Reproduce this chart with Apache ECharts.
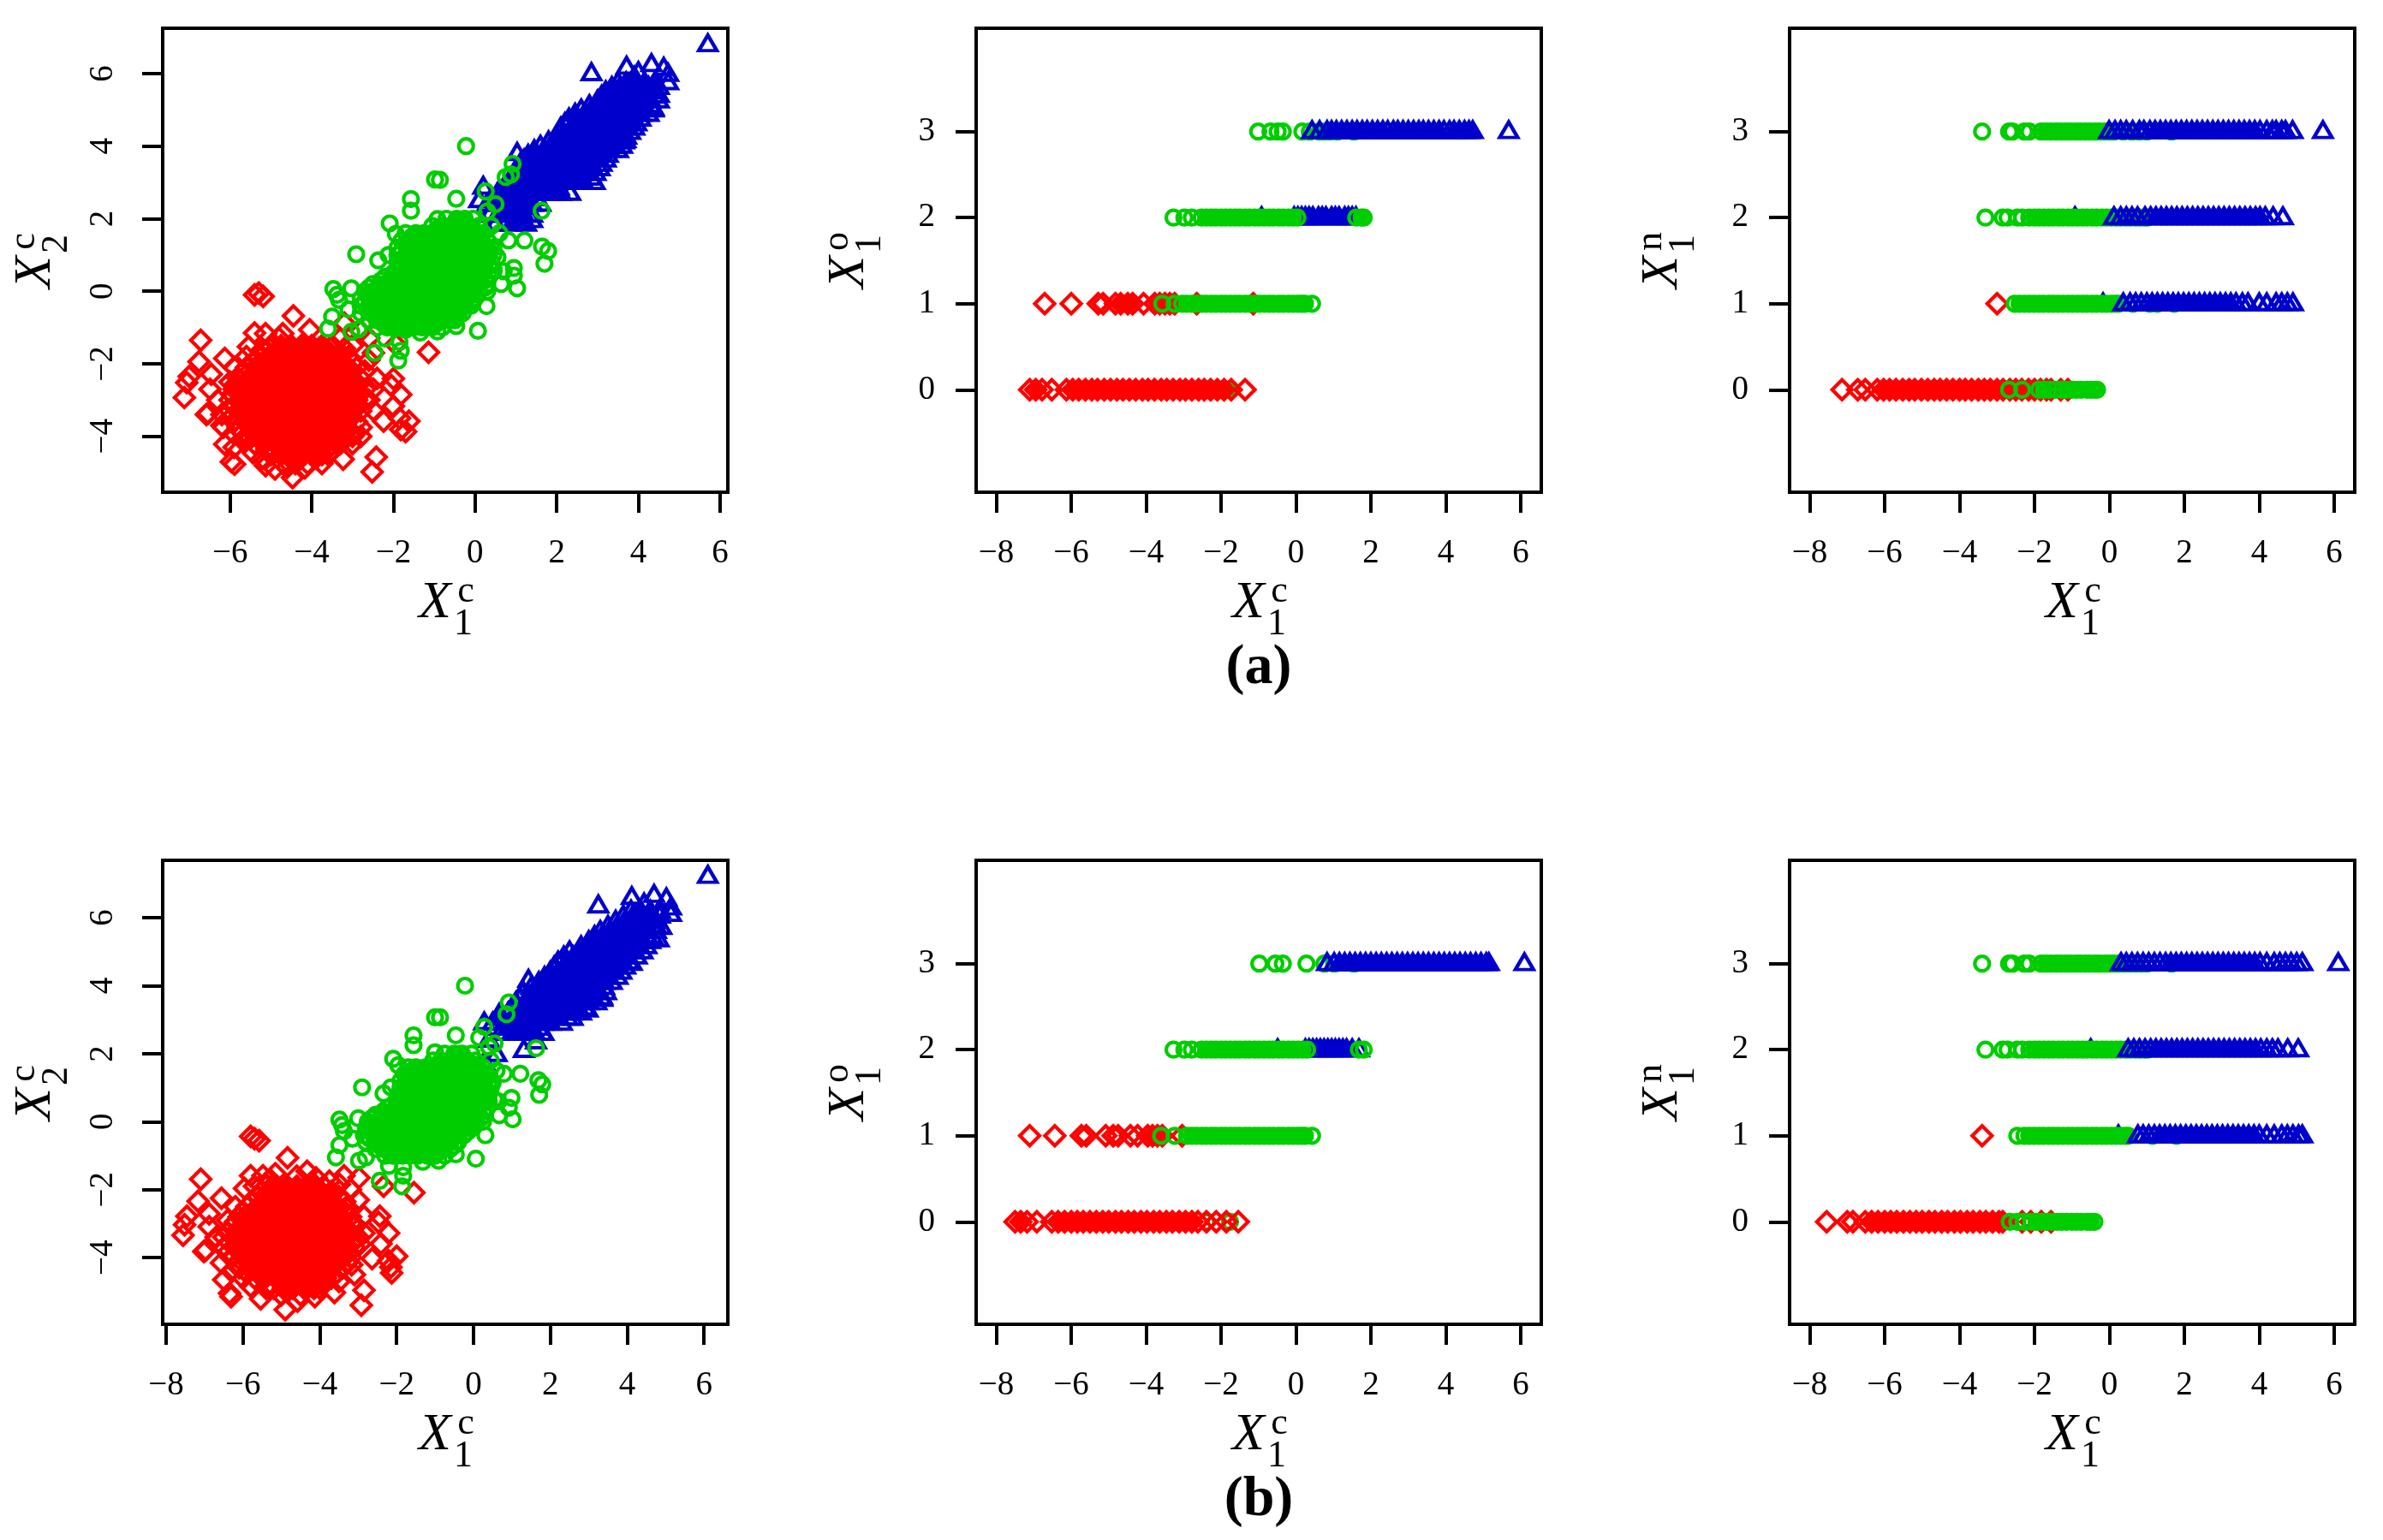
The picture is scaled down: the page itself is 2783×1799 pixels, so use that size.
<!DOCTYPE html>
<html><head><meta charset="utf-8">
<script src="https://cdn.jsdelivr.net/npm/echarts@6/dist/echarts.min.js"></script>
<style>html,body{margin:0;background:#fff}#c{width:2783px;height:1799px}</style></head>
<body><div id="c"></div>
<script>
// ---- tick labels
const ticksA1X=[-6,-4,-2,0,2,4,6], ticksWideX=[-8,-6,-4,-2,0,2,4,6], ticksScatterY=[-4,-2,0,2,4,6], ticksLevelY=[0,1,2,3];
// ---- panel (a) left: X1c / X2c. Dense clouds: rows as [y, x, x, ...]
const aRedRows=[
[-1.5,-5,-4.75,-4.5,-4.25,-4,-3.75,-3.5],
[-1.65,-5.1,-4.6,-4.1,-3.6],
[-1.8,-5.3,-5.05,-4.8,-4.55,-4.3,-4.05,-3.8,-3.55,-3.3,-3.1],
[-1.95,-5.4,-4.95,-4.4,-3.95,-3.45,-3],
[-2.1,-5.6,-5.35,-5.1,-4.85,-4.6,-4.35,-4.1,-3.85,-3.6,-3.35,-3.1,-2.9],
[-2.25,-5.7,-5.2,-4.7,-4.2,-3.7,-3.2],
[-2.4,-5.8,-5.55,-5.3,-5.05,-4.8,-4.55,-4.3,-4.05,-3.8,-3.55,-3.3,-3.05,-2.8],
[-2.55,-5.85,-5.4,-4.9,-4.4,-3.9,-3.4,-2.95],
[-2.7,-5.9,-5.65,-5.4,-5.15,-4.9,-4.65,-4.4,-4.15,-3.9,-3.65,-3.4,-3.15,-2.9,-2.7],
[-2.85,-5.95,-5.5,-5,-4.5,-4,-3.5,-3.05],
[-3,-6,-5.75,-5.5,-5.25,-5,-4.75,-4.5,-4.25,-4,-3.75,-3.5,-3.25,-3,-2.7],
[-3.15,-5.9,-5.35,-4.85,-4.35,-3.85,-3.35,-2.85],
[-3.3,-6,-5.75,-5.5,-5.25,-5,-4.75,-4.5,-4.25,-4,-3.75,-3.5,-3.25,-3,-2.8],
[-3.45,-5.95,-5.5,-5,-4.5,-4,-3.5,-3.05],
[-3.6,-5.9,-5.65,-5.4,-5.15,-4.9,-4.65,-4.4,-4.15,-3.9,-3.65,-3.4,-3.15,-2.9],
[-3.75,-5.8,-5.3,-4.8,-4.3,-3.8,-3.3],
[-3.9,-5.7,-5.45,-5.2,-4.95,-4.7,-4.45,-4.2,-3.95,-3.7,-3.45,-3.2,-3],
[-4.05,-5.5,-5.05,-4.55,-4.05,-3.55,-3.2],
[-4.2,-5.4,-5.15,-4.9,-4.65,-4.4,-4.15,-3.9,-3.65,-3.4,-3.3],
[-4.35,-5.1,-4.6,-4.1,-3.6],
[-4.5,-5,-4.75,-4.5,-4.25,-4,-3.75,-3.6],
[-4.75,-4.7,-4.4,-4.1]];
const aRedOut=[[-5.4,-.1],[-5.19,-.14],[-5.3,-.05],[-4.45,-.68],[-6.72,-1.35],[-6.76,-1.94],[-6.13,-1.85],[-6.46,-2.29],[-7,-2.35],[-7.06,-2.52],[-7.12,-2.93],[-6.49,-2.7],[-6.54,-3.37],[-6.58,-3.4],[-6.16,-3.75],[-6.13,-4.22],[-5.89,-4.77],[-5.97,-4.7],[-4.47,-5.14],[-5.13,-4.81],[-5.43,-4.46],[-4.17,-4.87],[-3.75,-4.75],[-3.23,-4.63],[-2.42,-4.57],[-2.52,-4.98],[-2.24,-3.58],[-1.82,-3.81],[-1.7,-3.87],[-1.62,-3.58],[-1.85,-3.5],[-2,-3.17],[-1.82,-2.85],[-2,-2.41],[-2.05,-2.6],[-2.49,-3.28],[-2.49,-2.7],[-2.79,-3.75],[-1.14,-1.68],[-1.94,-1.47],[-2.6,-1.29],[-4.05,-1.06],[-4.71,-1.17],[-5.13,-1.17],[-5.4,-1.15],[-5.55,-1.53],[-2.49,-1.7],[-3.2,-1.58],[-2.8,-1.1],[-3.2,-.88],[-3,-4],[-3,-4.2],[-2.8,-4],[-2.7,-2.2],[-2.6,-1.9],[-3,-1.5],[-3.3,-1.3],[-4.8,-1.3],[-5.2,-1.6],[-5.6,-1.8],[-5.9,-2.1],[-6,-2.5],[-6.3,-3],[-6.2,-3.4],[-6.2,-3.7],[-5.9,-4.3],[-5.7,-4.1],[-5.4,-4.2],[-5.2,-4.6],[-4.9,-4.9],[-4.6,-4.85],[-3.9,-4.6],[-3.5,-4.4],[-2.9,-3],[-2.6,-3],[-2.4,-2.4]];
const aGreenRows=[
[2,-.7,-.45,-.25,-.05],
[1.8,-1.05,-.8,-.6,-.35,-.15,.1],
[1.7,-.95,-.5,-.05],
[1.6,-1.7,-1.45,-1.25,-1,-.8,-.55,-.35,-.1,.1,.2],
[1.5,-1.55,-1.1,-.65,-.2,.15],
[1.4,-1.8,-1.6,-1.35,-1.15,-.95,-.7,-.5,-.3,-.05,.15,.3],
[1.3,-1.7,-1.25,-.85,-.4,.05],
[1.2,-1.9,-1.65,-1.45,-1.25,-1,-.8,-.6,-.35,-.15,.05,.25,.4],
[1.1,-1.8,-1.35,-.9,-.5,-.05,.35],
[1,-1.9,-1.7,-1.5,-1.25,-1.05,-.85,-.6,-.4,-.2,.05,.25,.45],
[.9,-1.75,-1.3,-.95,-.5,-.05,.3],
[.8,-1.9,-1.65,-1.45,-1.25,-1,-.8,-.6,-.35,-.15,.05,.25,.4],
[.7,-1.8,-1.35,-.9,-.45,0,.35],
[.6,-1.9,-1.7,-1.5,-1.25,-1.05,-.85,-.6,-.4,-.2,.05,.25,.4],
[.5,-2,-1.6,-1.15,-.75,-.3,.1],
[.4,-2.2,-2,-1.75,-1.55,-1.35,-1.1,-.9,-.7,-.45,-.25,-.05,.15,.35],
[.3,-2.3,-1.95,-1.5,-1.05,-.6,-.15,.25],
[.2,-2.5,-2.25,-2.05,-1.85,-1.6,-1.4,-1.2,-.95,-.75,-.55,-.3,-.1,.1,.3],
[.1,-2.6,-2.15,-1.75,-1.3,-.85,-.45,0,.25],
[0,-2.7,-2.5,-2.3,-2.05,-1.85,-1.65,-1.4,-1.2,-1,-.75,-.55,-.35,-.1,.1,.3],
[-.1,-2.65,-2.2,-1.75,-1.3,-.9,-.45,-.05],
[-.2,-2.8,-2.55,-2.35,-2.15,-1.9,-1.7,-1.5,-1.25,-1.05,-.85,-.6,-.4,-.2,0],
[-.3,-2.7,-2.25,-1.8,-1.4,-.95,-.5,-.1],
[-.4,-2.8,-2.6,-2.4,-2.15,-1.95,-1.75,-1.5,-1.3,-1.1,-.85,-.65,-.45,-.25,-.1],
[-.5,-2.65,-2.25,-1.85,-1.4,-.95,-.55],
[-.6,-2.8,-2.55,-2.35,-2.15,-1.9,-1.7,-1.5,-1.25,-1.05,-.85,-.6,-.4,-.3],
[-.7,-2.45,-2.05,-1.6,-1.2,-.75,-.45],
[-.8,-2.6,-2.4,-2.15,-1.95,-1.75,-1.5,-1.3,-1.1,-.85,-.65,-.5],
[-.9,-2.25,-1.85,-1.4,-.95],
[-1,-2.4,-2.15,-1.95,-1.7,-1.5,-1.3,-1.05,-.8]];
const aGreenOut=[[-.22,4],[-.98,3.08],[-.86,3.07],[.92,3.51],[.88,3.22],[.75,3.15],[.26,2.75],[-.46,2.55],[-1.57,2.54],[-1.57,2.22],[-2.09,1.87],[-2.91,1.02],[1.63,2.22],[1.21,1.4],[.82,1.4],[1.64,1.23],[1.79,1.11],[1.7,.76],[.95,.64],[.95,.43],[1.03,.08],[.64,.2],[.46,.58],[.55,.94],[.28,-.41],[.07,-1.09],[-.46,-.96],[-.92,-1.11],[-1.34,-1.14],[-1.7,-1.06],[-1.82,-1.64],[-1.88,-1.91],[-2.46,-1.7],[-3.03,-1.12],[-3.6,-1.03],[-3.5,-.7],[-3.47,.06],[-3.03,.08],[-3.33,-.24],[-3.38,-.1],[-2.37,.85],[-2.12,1],[-1.94,1.58],[-.92,1.99],[-1.85,-1.4],[-2.2,-1.3],[.6,1.6],[.45,1.2],[.7,.55],[.3,2.2],[.5,2.4],[.4,1.8],[-2.85,-1.05],[-3.1,-.5]];
const aBlueRows=[
[1.85,.5,.9,1.25],
[2.1,.35,.55,.8,1,1.2,1.4],
[2.4,.3,.5,.75,.95,1.15,1.4,1.6],
[2.55,.4,.65,.9,1.1,1.3,1.5],
[2.7,.55,.8,1,1.25,1.45,1.65,1.85,2.1,2.33],
[2.85,.7,.95,1.15,1.4,1.6,1.8,2.05],
[3,.85,1.05,1.3,1.5,1.7,1.95,2.15,2.4,2.65,2.93],
[3.12,1,1.25,1.45,1.7,1.9,2.15,2.35,2.6,2.85],
[3.25,.95,1.2,1.4,1.6,1.85,2.05,2.3,2.5,2.75,2.95],
[3.38,1.05,1.3,1.5,1.7,1.95,2.15,2.4,2.6,2.85,3.05],
[3.5,1.1,1.3,1.55,1.75,1.95,2.2,2.4,2.65,2.85,3.1],
[3.62,1.2,1.4,1.65,1.85,2.1,2.3,2.5,2.75,2.95,3.2],
[3.75,1.3,1.5,1.75,1.95,2.2,2.4,2.6,2.85,3.05,3.25],
[3.88,1.45,1.7,1.9,2.15,2.35,2.6,2.85,3.05,3.3,3.5],
[4,1.6,1.85,2.05,2.25,2.5,2.7,2.95,3.15,3.4,3.6],
[4.12,1.8,2,2.3,2.55,2.75,3,3.2,3.45,3.65],
[4.25,2,2.2,2.4,2.65,2.85,3.1,3.3,3.5,3.7],
[4.38,2.05,2.3,2.5,2.75,2.95,3.2,3.4,3.6,3.8],
[4.5,2.1,2.35,2.55,2.8,3,3.2,3.45,3.65,3.9],
[4.62,2.2,2.45,2.65,2.9,3.1,3.3,3.55,3.75,3.95],
[4.75,2.3,2.5,2.75,2.95,3.15,3.4,3.6,3.8,4.05],
[4.88,2.45,2.7,2.9,3.15,3.35,3.6,3.8,4.05,4.25],
[5,2.6,2.85,3.05,3.3,3.5,3.7,3.95,4.2,4.37],
[5.12,2.8,3,3.25,3.45,3.65,3.9,4.1,4.3],
[5.25,3,3.2,3.4,3.65,3.85,4.05,4.3,4.5],
[5.38,3.1,3.3,3.55,3.75,3.95,4.2,4.4],
[5.5,3.2,3.45,3.65,3.85,4.1,4.3],
[5.62,3.35,3.55,3.8,4,4.25,4.5],
[5.75,3.5,3.7,3.9,4.15,4.4,4.73]];
const aBlueOut=[[5.7,6.8],[2.85,6],[3.71,6.18],[4.32,6.25],[4.62,6.15],[4,6.03],[4.73,5.98],[4.5,5.4],[4.37,5.04],[3.68,4.16],[-.2,1.23],[.16,1.46],[.2,1.85],[.2,2.87],[1.03,3.8],[.1,2.5],[1.15,1.9],[1.4,1.95],[3.9,5.9]];
// ---- panel (b) left
const bRedRows=[
[-1.9,-5.4,-5.12,-4.85,-4.6,-4.35,-4.1,-3.9],
[-2.05,-5.2,-4.7,-4.2,-3.7],
[-2.2,-5.6,-5.33,-5.05,-4.8,-4.55,-4.3,-4.05,-3.75,-3.5],
[-2.35,-5.75,-5.2,-4.7,-4.15,-3.65,-3.35],
[-2.5,-5.9,-5.62,-5.35,-5.1,-4.85,-4.6,-4.3,-4.05,-3.8,-3.55,-3.3],
[-2.65,-6,-5.45,-4.95,-4.4,-3.9,-3.35],
[-2.8,-6.1,-5.83,-5.55,-5.3,-5.05,-4.75,-4.5,-4.25,-4,-3.7,-3.45,-3.2],
[-2.95,-6.2,-5.65,-5.15,-4.6,-4.1,-3.55,-3.15],
[-3.1,-6.3,-6,-5.75,-5.5,-5.2,-4.95,-4.7,-4.4,-4.15,-3.9,-3.65,-3.35,-3.1],
[-3.25,-6.4,-5.85,-5.35,-4.8,-4.3,-3.75,-3.2],
[-3.4,-6.5,-6.22,-5.95,-5.7,-5.4,-5.15,-4.9,-4.6,-4.35,-4.1,-3.85,-3.55,-3.3,-3],
[-3.55,-6.35,-5.8,-5.3,-4.75,-4.25,-3.7,-3.15],
[-3.7,-6.5,-6.22,-5.95,-5.7,-5.4,-5.15,-4.9,-4.6,-4.35,-4.1,-3.85,-3.55,-3.3,-3.1],
[-3.85,-6.4,-5.85,-5.35,-4.8,-4.3,-3.75,-3.25],
[-4,-6.3,-6,-5.75,-5.5,-5.2,-4.95,-4.7,-4.4,-4.15,-3.9,-3.65,-3.4,-3.2],
[-4.15,-6.15,-5.65,-5.15,-4.6,-4.1,-3.55,-3.3],
[-4.3,-6.1,-5.83,-5.55,-5.3,-5.05,-4.75,-4.5,-4.25,-4,-3.7,-3.4],
[-4.45,-5.9,-5.4,-4.85,-4.35,-3.85,-3.55],
[-4.6,-5.7,-5.42,-5.15,-4.9,-4.65,-4.35,-4.1,-3.85,-3.7],
[-4.75,-5.3,-4.8,-4.25,-3.9],
[-4.9,-5.2,-4.95,-4.7,-4.4,-4.15,-4]];
const bRedOut=[[-5.8,-.43],[-5.58,-.56],[-5.7,-.5],[-4.84,-1.06],[-7.1,-1.69],[-7.17,-2.34],[-6.56,-2.25],[-6.88,-2.71],[-7.46,-2.78],[-7.52,-3.03],[-7.56,-3.34],[-6.88,-3.09],[-6.97,-3.78],[-7.02,-3.82],[-6.56,-4.15],[-6.5,-4.65],[-6.31,-5.15],[-6.35,-5.05],[-4.9,-5.53],[-5.54,-5.21],[-5.8,-4.84],[-4.58,-5.28],[-4.13,-5.15],[-3.62,-5.03],[-2.85,-4.96],[-2.92,-5.4],[-2.64,-4.03],[-2.15,-4.28],[-2.13,-4.45],[-2,-3.96],[-2.21,-4.09],[-2.41,-3.59],[-2.21,-3.28],[-2.44,-2.78],[-2.47,-2.96],[-2.85,-3.28],[-2.85,-2.78],[-3.17,-4.21],[-1.55,-2.09],[-2.34,-1.9],[-2.98,-1.65],[-4.33,-1.46],[-5.16,-1.53],[-5.48,-1.59],[-5.8,-1.59],[-5.96,-1.96],[-3.37,-1.59],[-3.49,-1.84],[-4.6,-1.6],[-4.1,-1.65],[-3.75,-1.75],[-3.2,-2],[-3,-2.3],[-2.95,-3.6],[-3.1,-4.5],[-3.5,-4.7],[-4.5,-5.1],[-5,-5.1],[-5.4,-4.9],[-6,-4.6],[-6.3,-4.4],[-6.7,-3.4],[-6.4,-2.9],[-6.2,-2.5],[-5.7,-1.9],[-5.3,-1.7]];
const bGreenRows=[
[2,-.75,-.5,-.3,-.05],
[1.8,-1.05,-.85,-.6,-.4,-.15,.05],
[1.7,-.9,-.5,-.05],
[1.6,-1.7,-1.5,-1.25,-1.05,-.8,-.55,-.35,-.1,.1,.25],
[1.5,-1.6,-1.15,-.7,-.25,.2],
[1.4,-1.8,-1.55,-1.35,-1.1,-.9,-.7,-.45,-.25,-.05,.2,.35],
[1.3,-1.75,-1.3,-.85,-.4,.1],
[1.2,-1.9,-1.7,-1.45,-1.25,-1.05,-.8,-.6,-.35,-.15,.05,.3,.45],
[1.1,-1.8,-1.35,-.95,-.45,0,.4],
[1,-1.9,-1.65,-1.45,-1.2,-1,-.8,-.55,-.35,-.15,.1,.3,.45],
[.9,-1.8,-1.35,-.9,-.45,0,.35],
[.8,-1.95,-1.7,-1.5,-1.3,-1.05,-.85,-.65,-.4,-.2,0,.25,.4],
[.7,-1.8,-1.4,-.95,-.5,-.05,.35],
[.6,-1.9,-1.7,-1.45,-1.25,-1,-.8,-.6,-.35,-.15,.05,.25,.4],
[.5,-2,-1.55,-1.1,-.7,-.25,.15],
[.4,-2.25,-2,-1.8,-1.6,-1.35,-1.15,-.95,-.7,-.5,-.3,-.05,.15,.35],
[.3,-2.35,-1.9,-1.45,-1.05,-.65,-.2,.25],
[.2,-2.55,-2.3,-2.1,-1.85,-1.65,-1.45,-1.2,-1,-.8,-.55,-.35,-.15,.1,.3],
[.1,-2.65,-2.2,-1.75,-1.35,-.9,-.45,0,.2],
[0,-2.75,-2.55,-2.3,-2.1,-1.9,-1.65,-1.45,-1.25,-1,-.8,-.6,-.35,-.15,.05,.25],
[-.1,-2.7,-2.2,-1.8,-1.35,-.9,-.5,-.05],
[-.2,-2.8,-2.6,-2.35,-2.15,-1.95,-1.7,-1.5,-1.3,-1.05,-.85,-.65,-.4,-.2,-.05],
[-.3,-2.7,-2.25,-1.85,-1.4,-.95,-.55,-.15],
[-.4,-2.85,-2.6,-2.4,-2.2,-1.95,-1.75,-1.55,-1.3,-1.1,-.9,-.65,-.45,-.25],
[-.5,-2.7,-2.25,-1.85,-1.4,-1,-.55],
[-.6,-2.8,-2.55,-2.35,-2.15,-1.9,-1.7,-1.5,-1.25,-1.05,-.85,-.6,-.4],
[-.7,-2.45,-2,-1.6,-1.15,-.75,-.5],
[-.8,-2.55,-2.35,-2.1,-1.9,-1.7,-1.45,-1.25,-1.05,-.8,-.6],
[-.9,-2.2,-1.8,-1.35,-.9],
[-1,-2.3,-2.1,-1.85,-1.65,-1.45,-1.2,-1,-.75]];
const bGreenOut=[[-.22,4],[-1,3.07],[-.87,3.07],[.92,3.51],[.86,3.16],[.15,2.47],[.28,2.79],[-.46,2.54],[-1.56,2.54],[-1.56,2.25],[-2.09,1.85],[-2.9,1.01],[1.63,2.16],[1.22,1.41],[.79,1.41],[1.69,1.22],[1.79,1.1],[1.71,.79],[.99,.7],[.92,.41],[1.02,.07],[.67,.19],[.54,.66],[.31,-.4],[.06,-1.09],[-.46,-.96],[-.91,-1.15],[-1.32,-1.18],[-1.83,-1.59],[-1.86,-1.9],[-2.44,-1.74],[-2.98,-1.15],[-3.58,-1.05],[-3.49,-.69],[-3.49,.06],[-3,.1],[-3.37,-.28],[-3.42,-.1],[-2.34,.83],[-2.15,1.01],[-1.96,1.66],[-1,2.04],[-1.83,-1.34],[-2.2,-1.3],[.6,1.5],[.5,1.15],[.65,.6],[.4,2.2],[.55,2.3],[.45,1.8],[-2.8,-1.05],[-3.15,-.5]];
const bBlueRows=[
[2.6,.7,1,1.3,1.6,1.8],
[2.75,.6,.9,1.15,1.45,1.7],
[2.9,.5,.8,1,1.3,1.5,1.8,2,2.3],
[3.05,.7,1,1.25,1.5,1.7,1.95,2.2,2.45],
[3.2,.9,1.1,1.4,1.6,1.8,2.1,2.3,2.55,2.8],
[3.35,1,1.25,1.5,1.7,1.95,2.2,2.4,2.65,2.9],
[3.5,1.1,1.35,1.6,1.8,2.05,2.3,2.55,2.75,3,3.2],
[3.65,1.2,1.45,1.7,1.9,2.15,2.4,2.65,2.85,3.1,3.35],
[3.8,1.3,1.55,1.8,2,2.25,2.5,2.75,3,3.25,3.45],
[3.95,1.5,1.75,2,2.2,2.45,2.7,2.95,3.2,3.4],
[4.1,1.7,1.95,2.2,2.4,2.65,2.9,3.15,3.4,3.6],
[4.25,1.85,2.05,2.3,2.55,2.8,3,3.3,3.5,3.75],
[4.4,2,2.2,2.45,2.7,2.9,3.15,3.4,3.65,3.85],
[4.55,2.1,2.35,2.55,2.8,3.05,3.3,3.5,3.75,3.95],
[4.7,2.2,2.45,2.65,2.9,3.15,3.4,3.6,3.85,4.05],
[4.85,2.35,2.6,2.85,3.05,3.3,3.55,3.8,4,4.25],
[5,2.5,2.75,3,3.2,3.45,3.7,3.95,4.2,4.4],
[5.15,2.8,3.05,3.3,3.55,3.75,4.05,4.3,4.5],
[5.3,3,3.2,3.45,3.65,3.9,4.15,4.4,4.6],
[5.45,3.15,3.4,3.6,3.85,4.1,4.35,4.65],
[5.6,3.3,3.55,3.8,4.05,4.3,4.55,4.75],
[5.75,3.5,3.75,4,4.25,4.5,4.75],
[5.9,3.7,3.95,4.2,4.45,4.7],
[6.05,3.9,4.15,4.4,4.65,4.85],
[6.2,4.1,4.35,4.6,4.85]];
const bBlueOut=[[6.1,7.22],[3.25,6.35],[4.12,6.6],[4.7,6.66],[5.02,6.56],[4.44,6.41],[5.14,6.29],[5.14,6.1],[4.89,5.72],[4.82,5.35],[4.12,4.66],[1.43,4.16],[3.35,3.6],[2.97,3.29],[2.58,3.04],[1.82,2.6],[1.63,2.35],[1.31,2.1],[.6,1.98],[.28,1.73],[.28,2.91],[.67,3.16],[.35,1],[.4,2.4]];
// ---- strip panels: X1c values at each level, one array per class and level
const a2L0g=[-3.46,-3.4,-2.45,-1.86,-1.78];
const a2L0r=[-7.11,-6.95,-6.78,-6.52,-6.13,-5.96,-5.8,-5.62,-5.45,-5.3,-5.12,-4.95,-4.78,-4.62,-4.45,-4.28,-4.1,-3.95,-3.78,-3.6,-3.45,-3.28,-3.1,-2.95,-2.78,-2.6,-2.45,-2.28,-2.1,-1.92,-1.73,-1.36];
const a2L1r=[-6.71,-6,-5.28,-5.15,-4.82,-4.68,-4.49,-4.36,-4.07,-3.77,-3.64,-3.5,-3.37,-3.24,-2.65,-1.14];
const a2L1g=[-3.57,-3.24,-3.04,-2.91,-2.78,-2.66,-2.52,-2.4,-2.26,-2.14,-2,-1.88,-1.75,-1.62,-1.5,-1.36,-1.24,-1.1,-.98,-.85,-.72,-.6,-.46,-.34,-.2,-.08,.05,.15,.24,.43];
const a2L2b=[-.92,-.05,.05,.15,.25,.35,.45,.6,.7,.8,.95,1.05,1.15,1.3,1.4,1.5,1.6];
const a2L2g=[-3.27,-2.98,-2.78,-2.52,-2.39,-2.26,-2.14,-2,-1.88,-1.75,-1.62,-1.5,-1.36,-1.24,-1.1,-.98,-.85,-.72,-.6,-.46,-.34,-.2,-.08,.04,1.61,1.75,1.81];
const a2L3g=[-1.01,-.68,-.49,-.35,.17,.37,.63,.76,.9,1.1,1.55];
const a2L3b=[.43,.63,.83,.95,1.08,1.22,1.36,1.5,1.63,1.77,1.9,2.04,2.18,2.32,2.45,2.6,2.72,2.86,3,3.14,3.28,3.4,3.54,3.68,3.82,3.95,4.1,4.22,4.36,4.5,4.62,4.72,5.68];
const a3L0gLow=[-3.43,-3.38];
const a3L0r=[-7.14,-6.72,-6.52,-6.2,-6.03,-5.87,-5.7,-5.52,-5.35,-5.2,-5.02,-4.85,-4.68,-4.52,-4.35,-4.18,-4,-3.85,-3.68,-3.5,-3.34,-3.18,-3,-2.84,-2.66,-2.5,-2.34,-2.16,-2,-1.84,-1.68,-1.56,-1.3,-1.11];
const a3L0g=[-2.68,-2.33,-1.88,-1.75,-1.62,-1.45,-1.28,-1.15,-1,-.88,-.75,-.6,-.5,-.4,-.33];
const a3L1r=[-3];
const a3L1bLow=[-.17];
const a3L1g=[-2.53,-2.4,-2.27,-2.14,-2.01,-1.88,-1.76,-1.62,-1.5,-1.37,-1.24,-1.1,-.98,-.85,-.72,-.6,-.46,-.34,-.2,-.08,.05,.15,.24,.63,1.08,1.28,1.73];
const a3L1b=[.37,.55,.7,.85,1,1.14,1.28,1.42,1.56,1.7,1.84,1.98,2.12,2.26,2.4,2.54,2.68,2.82,2.96,3.1,3.24,3.38,3.55,3.7,4,4.2,4.45,4.6,4.75,4.9];
const a3L2bLow=[-.92];
const a3L2g=[-3.31,-2.85,-2.72,-2.46,-2.33,-2.14,-2,-1.88,-1.75,-1.62,-1.5,-1.36,-1.24,-1.1,-.98,-.85,-.72,-.6,-.46,-.34,-.2,-.08,.05,.18,.3,.44,.56,.7,.82,.94,1.02];
const a3L2b=[.12,.3,.45,.6,.75,.95,1.1,1.24,1.38,1.52,1.66,1.8,1.94,2.08,2.22,2.36,2.5,2.64,2.78,2.92,3.06,3.2,3.34,3.48,3.62,3.76,3.9,4.02,4.16,4.37,4.63];
const a3L3g=[-3.4,-2.68,-2.59,-2.27,-2.14,-1.82,-1.69,-1.56,-1.42,-1.3,-1.16,-1.04,-.9,-.78,-.64,-.52,-.38,-.26,-.12,0,.12,.37,.6,.8,1,1.66];
const a3L3b=[-.01,.15,.3,.45,.62,.8,.92,1.08,1.22,1.36,1.5,1.64,1.78,1.92,2.06,2.2,2.34,2.48,2.62,2.76,2.9,3.04,3.18,3.32,3.46,3.6,3.74,3.88,4.02,4.2,4.35,4.45,4.6,4.7,4.89,5.7];
const b2L0g=[-3.46,-3.42,-2.39,-1.76];
const b2L0r=[-7.5,-7.35,-7.18,-6.92,-6.52,-6.35,-6.18,-6,-5.84,-5.68,-5.5,-5.33,-5.16,-5,-4.82,-4.66,-4.48,-4.32,-4.14,-3.98,-3.8,-3.64,-3.46,-3.3,-3.12,-2.95,-2.78,-2.62,-2.39,-2.13,-1.86,-1.54];
const b2L1r=[-7.11,-6.44,-5.73,-5.6,-5.08,-4.88,-4.75,-4.42,-4.23,-3.96,-3.83,-3.7,-3.57,-3.04];
const b2L1g=[-3.6,-3.24,-2.91,-2.78,-2.66,-2.52,-2.4,-2.26,-2.14,-2,-1.88,-1.75,-1.62,-1.5,-1.36,-1.24,-1.1,-.98,-.85,-.72,-.6,-.46,-.34,-.2,-.08,.05,.15,.24,.43];
const b2L2b=[-.49,.25,.35,.45,.55,.65,.75,.85,.95,1.05,1.15,1.25,1.35,1.5,1.68];
const b2L2g=[-3.27,-2.98,-2.78,-2.52,-2.39,-2.26,-2.14,-2,-1.88,-1.75,-1.62,-1.5,-1.36,-1.24,-1.1,-.98,-.85,-.72,-.6,-.46,-.34,-.2,-.08,.05,.18,.3,1.68,1.81];
const b2L3g=[-.98,-.55,-.35,.28,.76,1.02,1.55];
const b2L3b=[.83,1.02,1.16,1.3,1.44,1.58,1.72,1.86,2,2.14,2.28,2.42,2.56,2.7,2.84,2.98,3.12,3.26,3.4,3.54,3.68,3.82,3.96,4.1,4.24,4.38,4.52,4.66,4.8,4.94,5.08,5.15,6.1];
const b3L0gLow=[-3.4,-3.3];
const b3L0r=[-7.55,-7,-6.85,-6.52,-6.35,-6.18,-6,-5.84,-5.68,-5.5,-5.33,-5.16,-5,-4.82,-4.66,-4.48,-4.32,-4.14,-3.98,-3.8,-3.64,-3.46,-3.3,-3.12,-2.95,-2.85,-2.33,-2.1,-1.82,-1.56];
const b3L0g=[-2.66,-2.46,-2.27,-2.08,-1.95,-1.82,-1.68,-1.55,-1.4,-1.28,-1.15,-1,-.88,-.75,-.6,-.5,-.4];
const b3L1r=[-3.4];
const b3L1bLow=[.24];
const b3L1g=[-2.46,-2.27,-2.14,-2.01,-1.88,-1.76,-1.62,-1.5,-1.37,-1.24,-1.1,-.98,-.85,-.72,-.6,-.46,-.34,-.2,-.08,.05,.18,.3,.42,.5,1.15,1.79];
const b3L1b=[.76,.9,1.05,1.2,1.34,1.48,1.62,1.76,1.9,2.04,2.18,2.32,2.46,2.6,2.74,2.88,3.02,3.16,3.3,3.44,3.58,3.72,3.86,4,4.2,4.4,4.6,4.75,4.9,5.05,5.15];
const b3L2bLow=[-.5];
const b3L2g=[-3.31,-2.85,-2.72,-2.46,-2.33,-2.14,-2,-1.88,-1.75,-1.62,-1.5,-1.36,-1.24,-1.1,-.98,-.85,-.72,-.6,-.46,-.34,-.2,-.08,.05,.18,.3,.44,.56,.7,.82,.94,1.02];
const b3L2b=[.5,.65,.8,.95,1.1,1.24,1.38,1.52,1.66,1.8,1.94,2.08,2.22,2.36,2.5,2.64,2.78,2.92,3.06,3.2,3.34,3.48,3.62,3.76,3.9,4.04,4.2,4.35,4.5,4.76,5.04];
const b3L3g=[-3.4,-2.68,-2.59,-2.27,-2.14,-1.82,-1.69,-1.56,-1.42,-1.3,-1.16,-1.04,-.9,-.78,-.64,-.52,-.38,-.26,-.12,0,.12,.25,.4,.55,.7,.85,1,1.66];
const b3L3b=[.31,.45,.6,.75,.9,1.05,1.2,1.35,1.5,1.64,1.78,1.92,2.06,2.2,2.34,2.48,2.62,2.76,2.9,3.04,3.18,3.32,3.46,3.6,3.74,3.88,4.02,4.2,4.4,4.55,4.7,4.85,5,5.15,6.11];

// ---- styles
const INK='#000', RED='#ff0000', GREEN='#00cd00', BLUE='#0000cd', FONT='"Liberation Serif",serif';
const marks={
 r:{symbol:'diamond',symbolSize:[23,23],color:RED,gap:.19},
 g:{symbol:'circle',symbolSize:[17,17],color:GREEN,gap:.15},
 b:{symbol:'triangle',symbolSize:[21,18],symbolOffset:[0,-2],color:BLUE,gap:.145}
};
const HOLLOW='rgba(0,0,0,0)';
// overplotted marks merge into a solid area in the reference: paint the inside of such runs solid
const item=(value,color)=>({value,itemStyle:{color}});
const cloud=(k,rows,extra)=>rows.flatMap(r=>{const xs=r.slice(1);return xs.map((x,j)=>item([x,r[0]],j>0&&j<xs.length-1?marks[k].color:HOLLOW))}).concat(extra.map(p=>item(p,HOLLOW)));
const stripData=(k,lvl,xs)=>xs.map((x,j)=>item([x,lvl],j>0&&j<xs.length-1&&x-xs[j-1]<marks[k].gap&&xs[j+1]-x<marks[k].gap?marks[k].color:HOLLOW));
const panels=[
 {l:190,t:33,x:[-7.65,6.19],y:[-5.54,7.25],xt:ticksA1X,yt:ticksScatterY,rot:true,sub:'2',sup:'c',
  draw:[['r',cloud('r',aRedRows,aRedOut)],['b',cloud('b',aBlueRows,aBlueOut)],['g',cloud('g',aGreenRows,aGreenOut)]]},
 {l:1140,t:33,sup:'o',strip:[['g',0,a2L0g],['r',0,a2L0r],['r',1,a2L1r],['g',1,a2L1g],['b',2,a2L2b],['g',2,a2L2g],['g',3,a2L3g],['b',3,a2L3b]]},
 {l:2090,t:33,sup:'n',strip:[['g',0,a3L0gLow],['r',0,a3L0r],['g',0,a3L0g],['r',1,a3L1r],['b',1,a3L1bLow],['g',1,a3L1g],['b',1,a3L1b],['b',2,a3L2bLow],['g',2,a3L2g],['b',2,a3L2b],['g',3,a3L3g],['b',3,a3L3b]]},
 {l:190,t:1005,x:[-8.09,6.62],y:[-5.96,7.69],xt:ticksWideX,yt:ticksScatterY,rot:true,sub:'2',sup:'c',
  draw:[['r',cloud('r',bRedRows,bRedOut)],['b',cloud('b',bBlueRows,bBlueOut)],['g',cloud('g',bGreenRows,bGreenOut)]]},
 {l:1140,t:1005,sup:'o',strip:[['g',0,b2L0g],['r',0,b2L0r],['r',1,b2L1r],['g',1,b2L1g],['b',2,b2L2b],['g',2,b2L2g],['g',3,b2L3g],['b',3,b2L3b]]},
 {l:2090,t:1005,sup:'n',strip:[['g',0,b3L0gLow],['r',0,b3L0r],['g',0,b3L0g],['r',1,b3L1r],['b',1,b3L1bLow],['g',1,b3L1g],['b',1,b3L1b],['b',2,b3L2bLow],['g',2,b3L2g],['b',2,b3L2b],['g',3,b3L3g],['b',3,b3L3b]]}
];
const W=660,H=542;
const fmt=v=>String(v).replace('-','\u2212');
const grid=[],xAxis=[],yAxis=[],series=[],graphic=[];
function mathLabel(px,py,rotate,sub,sup){
 const t=(text,x,y,size,style)=>({type:'text',x,y,silent:true,style:{text,fill:INK,font:`${style} ${size}px ${FONT}`,align:'center',verticalAlign:'middle'}});
 graphic.push({type:'group',x:px,y:py,rotation:rotate?Math.PI/2:0,silent:true,children:[
  t('X',0,0,62,'italic'),t(sub,33,24,44,'normal'),t(sup,36,-14,44,'normal')]});
}
panels.forEach((p,i)=>{
 grid.push({left:p.l,top:p.t,width:W,height:H,show:true,borderColor:INK,borderWidth:4,backgroundColor:'#fff',containLabel:false});
 const strip=!!p.strip;
 const xr=p.x||[-8.54,6.55], yr=p.y||[-1.19,4.2], xt=p.xt||ticksWideX, yt=p.yt||ticksLevelY;
 const tick={show:true,length:24,inside:false,lineStyle:{color:INK,width:4}};
 xAxis.push({type:'value',gridIndex:i,min:xr[0],max:xr[1],splitLine:{show:false},axisLine:{show:false,onZero:false},
  axisTick:{...tick,customValues:xt},axisLabel:{customValues:xt,formatter:fmt,color:INK,fontFamily:FONT,fontSize:39,margin:52,hideOverlap:false}});
 yAxis.push({type:'value',gridIndex:i,min:yr[0],max:yr[1],splitLine:{show:false},axisLine:{show:false,onZero:false},
  axisTick:{...tick,customValues:yt},axisLabel:{customValues:yt,formatter:fmt,color:INK,fontFamily:FONT,fontSize:39,margin:strip?48:50,rotate:p.rot?90:0,hideOverlap:false}});
 const add=(k,data)=>{const m=marks[k];series.push({type:'scatter',xAxisIndex:i,yAxisIndex:i,data,symbol:m.symbol,symbolSize:m.symbolSize,symbolOffset:m.symbolOffset||[0,0],clip:false,silent:true,animation:false,itemStyle:{color:HOLLOW,borderColor:m.color,borderWidth:4.2,borderJoin:'miter',borderMiterLimit:10,opacity:1}})};
 if(strip) p.strip.forEach(([k,lvl,xs])=>add(k,stripData(k,lvl,xs)));
 else p.draw.forEach(([k,d])=>add(k,d));
 mathLabel(p.l+318,p.t+H+130,false,'1','c');
 mathLabel(p.l-148,p.t+H/2+14,true,p.sub||'1',p.sup);
});
[['(a)',781],['(b)',1753]].forEach(([text,y])=>graphic.push({type:'text',x:1470,y,silent:true,style:{text,fill:INK,font:`bold 66px ${FONT}`,align:'center',verticalAlign:'middle'}}));
const chart=echarts.init(document.getElementById('c'),null,{renderer:'canvas'});
chart.setOption({animation:false,backgroundColor:'#fff',grid,xAxis,yAxis,series,graphic,tooltip:{show:false}});
</script></body></html>
